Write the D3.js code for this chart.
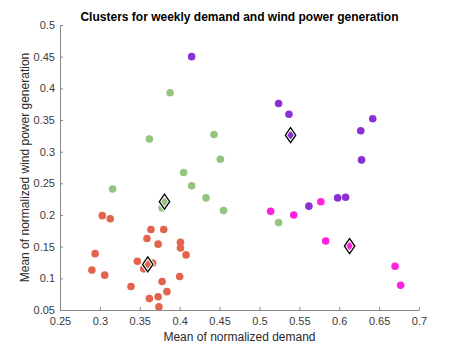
<!DOCTYPE html>
<html>
<head>
<meta charset="utf-8">
<script src="https://cdn.jsdelivr.net/npm/d3@7"></script>
<style>
  body { margin: 0; background: #fff; }
  svg { font-family: "Liberation Sans", Arial, sans-serif; }
</style>
</head>
<body>
<div id="chart-area"></div>
<script>
const SVG_WIDTH = 463
const SVG_HEIGHT = 348
const MARGIN = { left: 60, right: 44, top: 25, bottom: 38 }

// clusters: mean normalized demand (x) and mean normalized wind generation (y)
const redDemand = [0.303, 0.313, 0.364, 0.380, 0.359, 0.373, 0.401, 0.401, 0.294, 0.408, 0.347, 0.366, 0.355, 0.360, 0.290, 0.306, 0.400, 0.378, 0.339, 0.384, 0.373, 0.362, 0.374]
const redWind = [0.199, 0.194, 0.177, 0.177, 0.163, 0.154, 0.157, 0.148, 0.139, 0.137, 0.127, 0.124, 0.115, 0.122, 0.113, 0.105, 0.103, 0.095, 0.087, 0.079, 0.071, 0.068, 0.055]
const greenDemand = [0.388, 0.362, 0.443, 0.451, 0.405, 0.415, 0.316, 0.433, 0.455, 0.381, 0.378, 0.524]
const greenWind = [0.393, 0.320, 0.327, 0.288, 0.267, 0.246, 0.241, 0.227, 0.207, 0.221, 0.211, 0.188]
const purpleDemand = [0.415, 0.524, 0.537, 0.539, 0.642, 0.627, 0.628, 0.562, 0.598, 0.608]
const purpleWind = [0.450, 0.376, 0.359, 0.326, 0.352, 0.333, 0.287, 0.214, 0.227, 0.228]
const magentaDemand = [0.514, 0.543, 0.577, 0.583, 0.613, 0.670, 0.677]
const magentaWind = [0.206, 0.200, 0.221, 0.159, 0.151, 0.119, 0.089]

const medoidDemand = [0.360, 0.381, 0.539, 0.613]
const medoidWind = [0.122, 0.221, 0.326, 0.151]

const X_TICKS = [0.25, 0.3, 0.35, 0.4, 0.45, 0.5, 0.55, 0.6, 0.65, 0.7]
const Y_TICKS = [0.05, 0.1, 0.15, 0.2, 0.25, 0.3, 0.35, 0.4, 0.45, 0.5]

const clusters = [
  { color: "#e3644c", xs: redDemand, ys: redWind },
  { color: "#94c47e", xs: greenDemand, ys: greenWind },
  { color: "#8a30d4", xs: purpleDemand, ys: purpleWind },
  { color: "#ff22dc", xs: magentaDemand, ys: magentaWind }
]

const G_WIDTH = SVG_WIDTH - MARGIN.left - MARGIN.right
const G_HEIGHT = SVG_HEIGHT - MARGIN.top - MARGIN.bottom

const svg = d3.select("#chart-area").append("svg")
  .attr("width", SVG_WIDTH)
  .attr("height", SVG_HEIGHT)

const g = svg.append("g")
  .attr("transform", `translate(${MARGIN.left}, ${MARGIN.top})`)

const x = d3.scaleLinear().domain([0.25, 0.7]).range([0, G_WIDTH])
const y = d3.scaleLinear().domain([0.05, 0.5]).range([G_HEIGHT, 0])

// matlab style: ticks point inward
const xAxis = g.append("g")
  .attr("transform", `translate(0, ${G_HEIGHT})`)
  .call(d3.axisBottom(x).tickValues(X_TICKS).tickFormat(d3.format("~g")).tickSizeInner(-3).tickSizeOuter(0).tickPadding(7))
const yAxis = g.append("g")
  .call(d3.axisLeft(y).tickValues(Y_TICKS).tickFormat(d3.format("~g")).tickSizeInner(-3).tickSizeOuter(0).tickPadding(6))

for (const ax of [xAxis, yAxis]) {
  ax.select(".domain").attr("stroke", "#8a8a8a")
  ax.selectAll(".tick line").attr("stroke", "#8a8a8a")
  ax.selectAll("text").attr("font-size", "11px").attr("fill", "#3a3a3a").attr("font-family", "Liberation Sans, Arial, sans-serif")
}
yAxis.selectAll("text").attr("x", -5)

clusters.forEach(c => {
  g.append("g").selectAll("circle")
    .data(c.xs.map((v, i) => [v, c.ys[i]]))
    .enter().append("circle")
    .attr("cx", d => x(d[0]))
    .attr("cy", d => y(d[1]))
    .attr("r", 3.8)
    .attr("fill", c.color)
})

// medoid markers
const diamond = "M0,-7.5 L5.2,0 L0,7.5 L-5.2,0 Z"
const medoids = medoidDemand.map((v, i) => [v, medoidWind[i]])
g.append("g").selectAll("path.halo")
  .data(medoids)
  .enter().append("path")
  .attr("d", diamond)
  .attr("transform", d => `translate(${x(d[0])}, ${y(d[1])})`)
  .attr("fill", "none")
  .attr("stroke", "#fff")
  .attr("stroke-width", 3.2)
g.append("g").selectAll("path.mark")
  .data(medoids)
  .enter().append("path")
  .attr("d", diamond)
  .attr("transform", d => `translate(${x(d[0])}, ${y(d[1])})`)
  .attr("fill", "none")
  .attr("stroke", "#000")
  .attr("stroke-width", 1.3)

svg.append("text")
  .attr("x", MARGIN.left + G_WIDTH / 2)
  .attr("y", 21)
  .attr("text-anchor", "middle")
  .attr("font-size", "12px")
  .attr("font-weight", "bold")
  .attr("fill", "#000")
  .text("Clusters for weekly demand and wind power generation")

svg.append("text")
  .attr("x", MARGIN.left + G_WIDTH / 2)
  .attr("y", 341)
  .attr("text-anchor", "middle")
  .attr("font-size", "12px")
  .attr("fill", "#2a2a2a")
  .text("Mean of normalized demand")

svg.append("text")
  .attr("transform", `translate(29, ${MARGIN.top + G_HEIGHT / 2}) rotate(-90)`)
  .attr("text-anchor", "middle")
  .attr("font-size", "12px")
  .attr("fill", "#2a2a2a")
  .text("Mean of normalized wind power generation")
</script>
</body>
</html>
